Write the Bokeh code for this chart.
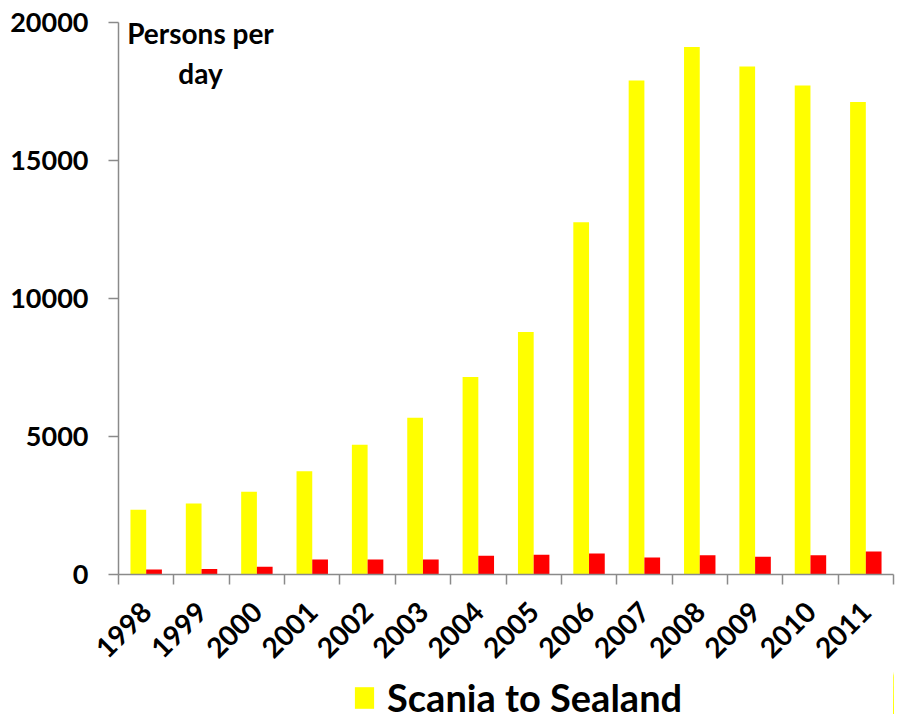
from math import pi
from bokeh.plotting import figure
from bokeh.layouts import column
from bokeh.models import (Range1d, LinearAxis, FixedTicker,
                          Legend, LegendItem, Label, ColumnDataSource)
from bokeh.transform import dodge
from bokeh.embed import file_html
from bokeh.resources import INLINE

years = ["1998", "1999", "2000", "2001", "2002", "2003", "2004",
         "2005", "2006", "2007", "2008", "2009", "2010", "2011"]
scania_to_sealand = [2350, 2570, 3000, 3740, 4700, 5680, 7160,
                     8790, 12760, 17900, 19110, 18410, 17720, 17120]
sealand_to_scania = [180, 200, 280, 540, 540, 540, 675,
                     720, 760, 615, 700, 640, 700, 830]
y_ticks = [0, 5000, 10000, 15000, 20000]

FONT = "Lato"
AXIS_GRAY = "#8a8a8a"

n = len(years)
centers = [i + 0.5 for i in range(n)]
bounds = list(range(n + 1))
src = ColumnDataSource(dict(xc=centers, year=years, a=scania_to_sealand, b=sealand_to_scania))

p = figure(width=898, height=670, output_backend="svg", toolbar_location=None,
           x_range=Range1d(0, n), y_range=Range1d(0, 20000),
           x_axis_location=None, min_border_left=118, min_border_top=22,
           min_border_right=5, min_border_bottom=95)
p.outline_line_color = None
p.grid.visible = False

BW = 0.284
ra = p.vbar(x=dodge("xc", -0.142), top="a", width=BW, source=src,
            fill_color="#FFFF00", line_color=None)
rb = p.vbar(x=dodge("xc", 0.142), top="b", width=BW, source=src,
            fill_color="#FF0000", line_color=None)

# y axis
ya = p.yaxis[0]
ya.ticker = FixedTicker(ticks=y_ticks)
ya.axis_line_color = AXIS_GRAY
ya.axis_line_width = 1.5
ya.major_tick_line_color = AXIS_GRAY
ya.major_tick_line_width = 1.5
ya.major_tick_out = 10
ya.major_tick_in = 0
ya.minor_tick_line_color = None
ya.major_label_standoff = 20
ya.major_label_text_font = FONT
ya.major_label_text_font_style = "bold"
ya.major_label_text_font_size = "27px"
ya.major_label_text_color = "black"

# x axis: year labels at category centres, tick marks at category boundaries
xa = LinearAxis(ticker=FixedTicker(ticks=centers, minor_ticks=bounds),
                major_label_overrides={c: y for c, y in zip(centers, years)},
                axis_line_color=AXIS_GRAY, axis_line_width=1.5,
                major_tick_line_color=None, major_tick_out=0, major_tick_in=0,
                minor_tick_line_color=AXIS_GRAY, minor_tick_line_width=1.5,
                minor_tick_out=10, minor_tick_in=0,
                major_label_orientation=pi / 4, major_label_standoff=22,
                major_label_text_font=FONT, major_label_text_font_style="bold",
                major_label_text_font_size="28px", major_label_text_color="black")
p.add_layout(xa, "below")

# axis title (screen offsets relative to the plot frame; kept inside the frame)
p.add_layout(Label(x=82, y=559, x_units="screen", y_units="screen",
                   text="Persons per\nday", text_align="center", text_baseline="top",
                   text_font=FONT, text_font_style="bold", text_font_size="28px",
                   text_color="black"))

# legend strip below the chart (its frame is aligned with the chart frame)
p2 = figure(width=898, height=44, output_backend="svg", toolbar_location=None,
            x_range=Range1d(-3, -2), y_range=Range1d(0, 20000),
            x_axis_location=None, y_axis_location=None, min_border=0)
p2.outline_line_color = None
p2.grid.visible = False
r_leg = p2.vbar(x=dodge("xc", -0.142), top="a", width=BW, source=src,
                fill_color="#FFFF00", line_color=None)

legend = Legend(items=[LegendItem(label="Scania to Sealand", renderers=[r_leg])],
                location=(234, -6), orientation="horizontal",
                label_text_font=FONT, label_text_font_style="bold",
                label_text_font_size="38px", label_text_color="black",
                glyph_width=24, glyph_height=27, label_standoff=11,
                padding=0, margin=0, border_line_color=None, background_fill_alpha=0)
p2.add_layout(legend, "center")

layout = column(p, p2, spacing=0)
open("out.html", "w").write(file_html(layout, INLINE))
